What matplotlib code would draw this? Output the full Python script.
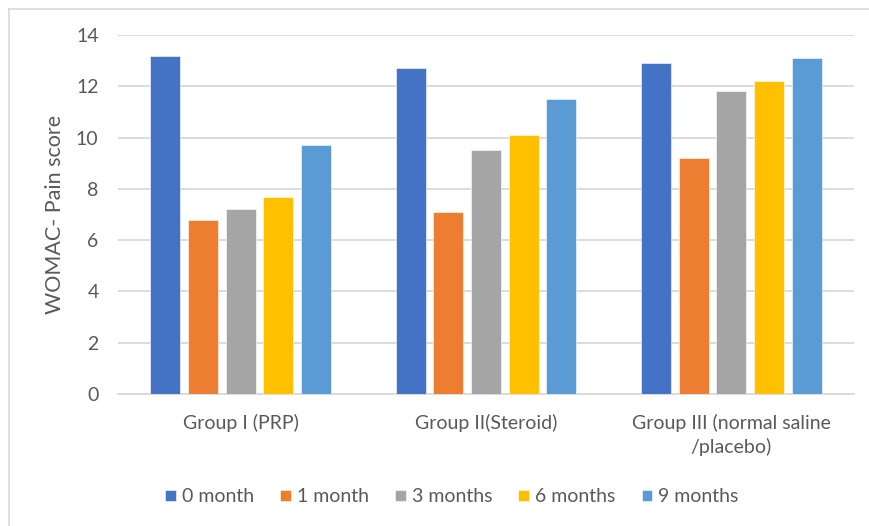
import matplotlib
matplotlib.use("Agg")
import matplotlib.pyplot as plt
from matplotlib.lines import Line2D
import numpy as np

# WOMAC pain scores per treatment group over follow-up
groups = ["Group I (PRP)", "Group II(Steroid)", "Group III (normal saline\n/placebo)"]
series_names = ["0 month", "1 month", "3 months", "6 months", "9 months"]
month_0 = [13.2, 12.7, 12.9]
month_1 = [6.8, 7.1, 9.2]
month_3 = [7.2, 9.5, 11.8]
month_6 = [7.7, 10.1, 12.2]
month_9 = [9.7, 11.5, 13.1]
series_values = [month_0, month_1, month_3, month_6, month_9]
colors = ["#4472C4", "#ED7D31", "#A5A5A5", "#FFC000", "#5B9BD5"]

plt.rcParams["font.family"] = ["Lato", "DejaVu Sans"]
text_color = "#595959"
grid_color = "#D9D9D9"

fig = plt.figure(figsize=(8.69, 5.26), dpi=100)
ax = fig.add_axes([118 / 869, 1 - 394 / 526, (854 - 118) / 869, (394 - 35) / 526])

x = np.arange(len(groups))
step = 0.1537
width = 0.122
for i, (name, vals, c) in enumerate(zip(series_names, series_values, colors)):
    offset = (i - 2) * step
    ax.bar(x + offset, vals, width=width, color=c, label=name, zorder=3,
           edgecolor="white", linewidth=0.4)

ax.set_xlim(-0.5, len(groups) - 0.5)
ax.set_ylim(0, 14)
ax.set_yticks(np.arange(0, 15, 2))
ax.yaxis.grid(True, color=grid_color, linewidth=1.3, zorder=0)
ax.set_axisbelow(True)
for side in ["top", "right", "left"]:
    ax.spines[side].set_visible(False)
ax.spines["bottom"].set_color(grid_color)
ax.spines["bottom"].set_linewidth(1.3)
ax.tick_params(axis="both", length=0, colors=text_color, labelsize=14)
ax.tick_params(axis="y", pad=14)
ax.tick_params(axis="x", pad=14)
ax.set_xticks(x)
ax.set_xticklabels(groups, color=text_color, fontsize=14, linespacing=1.45)
ax.set_ylabel("WOMAC- Pain score", color=text_color, fontsize=15.5, labelpad=8)

leg = fig.legend(loc="center", bbox_to_anchor=(452 / 869, 1 - 497 / 526), ncol=5,
                 frameon=False, fontsize=14, handlelength=0.55, handleheight=0.55,
                 handletextpad=0.3, columnspacing=1.35)
for t in leg.get_texts():
    t.set_color(text_color)

# outer chart frame (left and top edges)
fig.add_artist(Line2D([8.5 / 869, 8.5 / 869], [0, 1 - 9 / 526], transform=fig.transFigure,
                      color=grid_color, linewidth=1.2))
fig.add_artist(Line2D([8.5 / 869, 1], [1 - 9 / 526, 1 - 9 / 526], transform=fig.transFigure,
                      color=grid_color, linewidth=1.2))

fig.savefig("out.png", dpi=100)
